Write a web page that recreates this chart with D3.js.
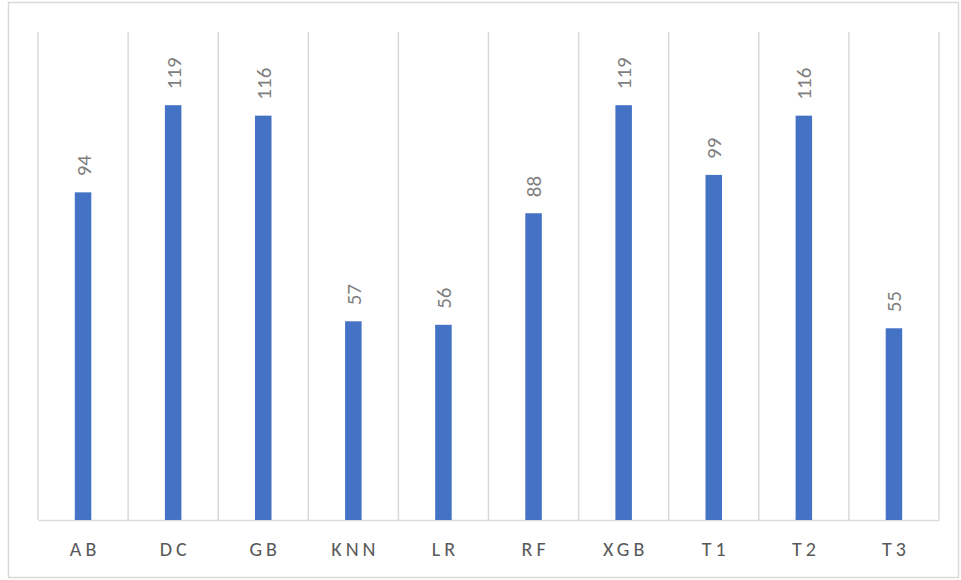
<!DOCTYPE html>
<html>
<head>
<meta charset="utf-8">
<script src="https://cdn.jsdelivr.net/npm/d3@7"></script>
<style>
  html, body { margin: 0; padding: 0; background: #fff; }
  svg { display: block; }
</style>
</head>
<body>
<svg id="chart" width="961" height="580"></svg>
<script>
// Model names and their scores
const categories = ["AB", "DC", "GB", "KNN", "LR", "RF", "XGB", "T1", "T2", "T3"];
const values = [94, 119, 116, 57, 56, 88, 119, 99, 116, 55];
const yMax = 140;

const svg = d3.select("#chart");
const plot = { left: 38, right: 939, top: 32, bottom: 520 };
const font = "Carlito, Calibri, Lato, 'Open Sans', 'Liberation Sans', sans-serif";

// outer frame
svg.append("rect")
  .attr("x", 8.5).attr("y", 2.5)
  .attr("width", 950).attr("height", 575)
  .attr("fill", "#fff")
  .attr("stroke", "#d9d9d9").attr("stroke-width", 1.5);

const x = d3.scaleBand().domain(categories).range([plot.left, plot.right]).paddingInner(0).paddingOuter(0);
const y = d3.scaleLinear().domain([0, yMax]).range([plot.bottom, plot.top]);

// vertical separators between categories
const edges = categories.map(c => x(c)).concat([plot.right]);
svg.append("g").selectAll("line").data(edges).join("line")
  .attr("x1", d => d).attr("x2", d => d)
  .attr("y1", plot.top).attr("y2", plot.bottom)
  .attr("stroke", "#d9d9d9").attr("stroke-width", 1.5);

// category axis
const xAxis = d3.axisBottom(x).tickSize(0).tickPadding(22);
const gx = svg.append("g").attr("transform", `translate(0,${plot.bottom})`).call(xAxis);
gx.select(".domain").attr("stroke", "#d9d9d9").attr("stroke-width", 1.5);
gx.selectAll("text")
  .attr("fill", "#595959")
  .style("font-family", font)
  .style("font-size", "20px")
  .style("letter-spacing", "4px")
  .attr("dx", "2px");

// bars
const barW = 16.5;
svg.append("g").selectAll("rect").data(categories).join("rect")
  .attr("x", (d) => x(d) + x.bandwidth() / 2 - barW / 2)
  .attr("width", barW)
  .attr("y", (d, i) => y(values[i]))
  .attr("height", (d, i) => plot.bottom - y(values[i]))
  .attr("fill", "#4472c4");

// value labels, rotated
svg.append("g").selectAll("text").data(categories).join("text")
  .attr("transform", (d, i) => `translate(${x(d) + x.bandwidth() / 2 + 7.5},${y(values[i]) - 16}) rotate(-90)`)
  .attr("text-anchor", "start")
  .attr("fill", "#7f7f7f")
  .style("font-family", font)
  .style("font-size", "21px")
  .text((d, i) => values[i]);
</script>
</body>
</html>
